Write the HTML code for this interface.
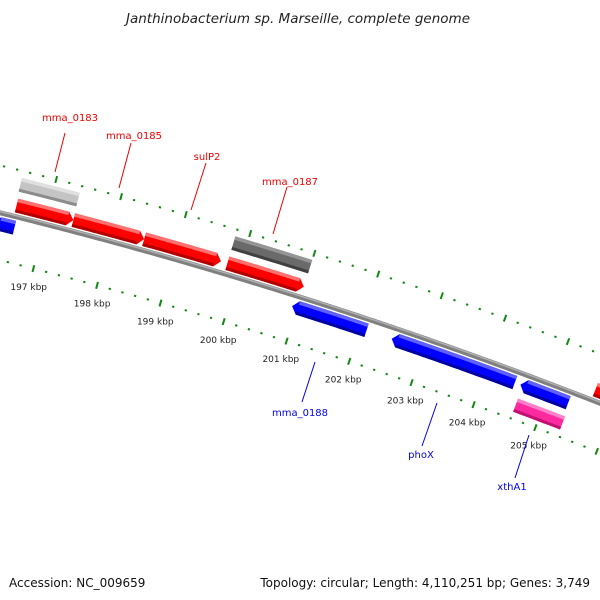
<!DOCTYPE html>
<html><head><meta charset="utf-8"><style>
html,body{margin:0;padding:0;background:#fff;}
svg{display:block;font-family:"DejaVu Sans","Liberation Sans",sans-serif;}
</style></head><body>
<svg id="chart" width="600" height="600" viewBox="0 0 600 600" xmlns="http://www.w3.org/2000/svg">
<rect width="600" height="600" fill="#fff"/>
<text x="298" y="23" text-anchor="middle" font-size="13.5" font-style="italic" fill="#222">Janthinobacterium sp. Marseille, complete genome</text>
<g id="ticks"></g>
<g id="backbone"></g>
<g id="genes"></g>
<g id="labels"></g>
<text x="9" y="587" font-size="12" fill="#111">Accession: NC_009659</text>
<text x="590" y="587" text-anchor="end" font-size="12" fill="#111">Topology: circular; Length: 4,110,251 bp; Genes: 3,749</text>
</svg>
<script>
// data
const tickKbpLabels = [197,198,199,200,201,202,203,204,205];
const geneStarts = [196.52,197.40,198.50,199.80,205.64, 196.50,199.80,205.67, 196.25,200.92,202.50,204.56, 204.60];
const geneEnds   = [197.40,198.50,199.70,201.00,206.60, 197.39,201.00,206.60, 196.57,202.10,204.47,205.33, 205.36];
const geneLanes  = [1,1,1,1,1, 2,2,2, -1,-1,-1,-1, -2];
const geneTypes  = ['red','red','red','red','red','lgray','dgray','cyan','blue','blue','blue','blue','pink'];
const labelTexts = ['mma_0183','mma_0185','sulP2','mma_0187','mma_0188','phoX','xthA1'];
const labelStrand = [1,1,1,1,-1,-1,-1];

const NS='http://www.w3.org/2000/svg';
const cx=-1137, cy=4835, R0=4760, phi0=0.2509, dphi=0.01397;
function pt(k,r){const p=phi0+(k-197)*dphi;return [cx+r*Math.sin(p), cy-r*Math.cos(p)];}
function mk(tag,attrs,parent){const e=document.createElementNS(NS,tag);for(const a in attrs)e.setAttribute(a,attrs[a]);parent.appendChild(e);return e;}
function arcPts(k1,k2,r){const a=[];const n=Math.max(4,Math.ceil(Math.abs(k2-k1)*20));for(let i=0;i<=n;i++){a.push(pt(k1+(k2-k1)*i/n,r));}return a;}
function ps(a){return a.map(p=>p[0].toFixed(2)+','+p[1].toFixed(2)).join(' ');}

// backbone
const bb=document.getElementById('backbone');
const bbl=mk('polyline',{points:ps(arcPts(195.5,207.5,R0)),fill:'none',stroke:'#808080','stroke-width':5},bb);


const bbh=mk('polyline',{points:ps(arcPts(195.5,207.5,R0+1.2)),fill:'none',stroke:'#b0b0b0','stroke-width':1.5},bb);



// ticks
const tg=document.getElementById('ticks');
const rings=[R0-46,R0+46];
for(let ri=0;ri<rings.length;ri++){
  for(let s=1962;s<=2066;s+=2){
    const k=s/10, major=(s%10===0);
    const r=rings[ri];
    const a=pt(k,r-(major?3.5:1)), b=pt(k,r+(major?3.5:1));
    const t=mk('line',{x1:a[0],y1:a[1],x2:b[0],y2:b[1],stroke:'#118811','stroke-width':major?2:2.2},tg);
    
    
  }
}
tickKbpLabels.forEach(k=>{
  const p=pt(k,R0-65);
  const t=mk('text',{x:p[0].toFixed(1),y:(p[1]+3).toFixed(1),'text-anchor':'middle','font-size':'9',fill:'#222'},tg);
  t.textContent=k+' kbp';
  
  
});

// genes
const palette={red:['#ff0000','#ff7070','#b00000'],blue:['#0000ff','#6060ff','#0000a0'],lgray:['#c4c4c4','#e0e0e0','#8c8c8c'],dgray:['#6a6a6a','#959595','#404040'],cyan:['#22b0e8','#80d8f8','#1080b0'],pink:['#ff2aa0','#ff80c8','#c01070']};
const laneR={1:R0+11,2:R0+32,'-1':R0-11,'-2':R0-32};
const gg=document.getElementById('genes');
for(let i=0;i<geneStarts.length;i++){
  const k1=geneStarts[i],k2=geneEnds[i],lane=geneLanes[i],c=palette[geneTypes[i]];
  const rc=laneR[lane],h=7;
  const arrow=(Math.abs(lane)===1);
  const tip=0.09;
  let poly;
  if(arrow&&lane>0){poly=arcPts(k1,k2-tip,rc+h).concat([pt(k2,rc)],arcPts(k2-tip,k1,rc-h));}
  else if(arrow&&lane<0){poly=[pt(k1,rc)].concat(arcPts(k1+tip,k2,rc+h),arcPts(k2,k1+tip,rc-h));}
  else{poly=arcPts(k1,k2,rc+h).concat(arcPts(k2,k1,rc-h));}
  const g=mk('g',{},gg);
  
  
  mk('polygon',{points:ps(poly),fill:c[0]},g);
  const a1=arrow&&lane<0?k1+tip:k1, a2=arrow&&lane>0?k2-tip:k2;
  mk('polygon',{points:ps(arcPts(a1,a2,rc+h).concat(arcPts(a2,a1,rc+h-3.5))),fill:c[1]},g);
  mk('polygon',{points:ps(arcPts(a1,a2,rc-h+3).concat(arcPts(a2,a1,rc-h))),fill:c[2]},g);
}
// small left stacked features
[['#9a9ab0',R0-27],['#6060c0',R0-32],['#30c0d8',R0-37]].forEach((f,j)=>{
  const poly=arcPts(196.2,196.4,f[1]+2.5).concat(arcPts(196.4,196.2,f[1]-2.5));
  const e=mk('polygon',{points:ps(poly),fill:f[0]},gg);
  
  
});

// labels (layout positions)
const lg=document.getElementById('labels');
const labelPos=[[70,121],[134,139],[207,160],[290,185],[300,416],[421,458],[512,490]];
const leaders=[[65,133,55,172],[131,143,119,188],[206,163,191,210],[287,187,273,234],[315,362,302,402],[437,403,422,446],[529,435,515,478]];
for(let j=0;j<labelTexts.length;j++){
  const col=labelStrand[j]>0?'#ee0000':'#0000ee';
  const L=leaders[j];
  const ln=mk('line',{x1:L[0],y1:L[1],x2:L[2],y2:L[3],stroke:col,'stroke-width':1},lg);
  
  
  const t=mk('text',{x:labelPos[j][0],y:labelPos[j][1],'text-anchor':'middle','font-size':'10',fill:col},lg);
  t.textContent=labelTexts[j];
  
  
}
</script>
</body></html>
